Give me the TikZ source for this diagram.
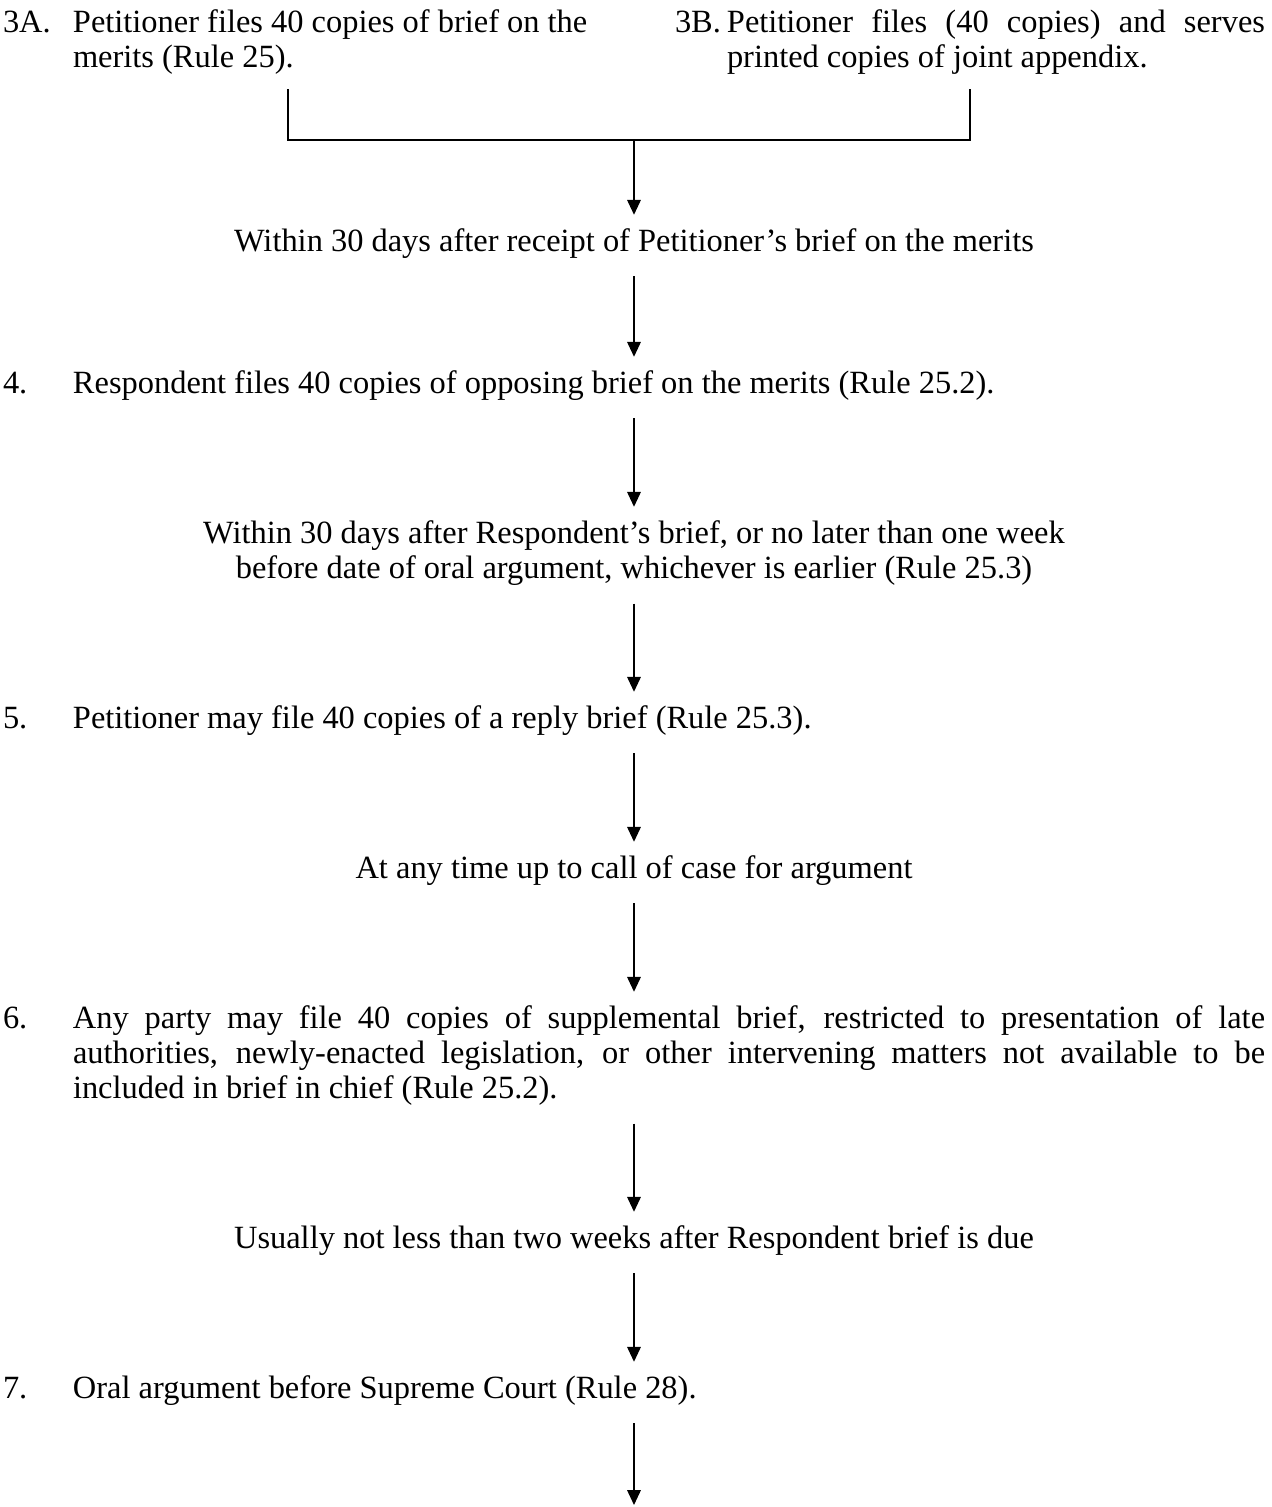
\documentclass[tikz,border=0pt]{standalone}
\usepackage{fontspec}
\setmainfont{Liberation Serif}
\usetikzlibrary{arrows.meta}
\newlength\pxu
\setlength\pxu{0.37pt}
\newcommand\steplabel[2]{\makebox[#1\pxu][l]{#2}}
\newcommand\justline[1]{\makebox[\linewidth][s]{#1}}

\begin{document}
\begin{tikzpicture}[x=0.37pt, y=-0.37pt, >={Triangle[width=5pt,length=5.5pt]},
  every node/.style={inner sep=0pt, outer sep=0pt, font=\fontsize{12}{13}\selectfont},
  stepnode/.style={anchor=base west},
  waitnode/.style={anchor=base},
  flowline/.style={line width=0.6pt},
  flowarrow/.style={flowline, ->, shorten <=5.5pt, shorten >=4.3pt}]
  \useasboundingbox (0,0) rectangle (1271,1507);

  \node[stepnode] (step3a) at (3,32) {\steplabel{70}{3A.}\parbox[t]{500\pxu}{\strut\mbox{Petitioner files 40 copies of brief on the}\\ merits (Rule 25).\strut}};
  \node[stepnode] (step3b) at (675,32) {\steplabel{52}{3B.}\parbox[t]{538\pxu}{\strut\justline{Petitioner files (40 copies) and serves}\\ printed copies of joint appendix.\strut}};
  \coordinate (join) at (634,140);

  \node[waitnode] (wait1) at (634,251) {\strut Within 30 days after receipt of Petitioner’s brief on the merits};
  \node[stepnode] (step4) at (3,393) {\steplabel{70}{4.}\parbox[t]{1192\pxu}{\strut Respondent files 40 copies of opposing brief on the merits (Rule 25.2).}};
  \node[waitnode] (wait2) at (634,543) {\parbox[t]{1000\pxu}{\centering\strut Within 30 days after Respondent’s brief, or no later than one week\\ before date of oral argument, whichever is earlier (Rule 25.3)\strut}};
  \node[stepnode] (step5) at (3,728) {\steplabel{70}{5.}\parbox[t]{1192\pxu}{\strut Petitioner may file 40 copies of a reply brief (Rule 25.3).}};
  \node[waitnode] (wait3) at (634,878) {\strut At any time up to call of case for argument};
  \node[stepnode] (step6) at (3,1028) {\steplabel{70}{6.}\parbox[t]{1192\pxu}{\strut\justline{Any party may file 40 copies of supplemental brief, restricted to presentation of late}\\ \justline{authorities, newly-enacted legislation, or other intervening matters not available to be}\\ included in brief in chief (Rule 25.2).\strut}};
  \node[waitnode] (wait4) at (634,1248) {\strut Usually not less than two weeks after Respondent brief is due};
  \node[stepnode] (step7) at (3,1398) {\steplabel{70}{7.}\parbox[t]{1192\pxu}{\strut Oral argument before Supreme Court (Rule 28).}};
  \coordinate (endpt) at (634,1505);

  \draw[flowline, shorten <=4.3pt] (step3a.south) |- (join);
  \draw[flowline, shorten <=4.3pt] (step3b.south) |- (join);
  \draw[flowarrow, shorten <=0pt] (join) -- (wait1);
  \draw[flowarrow] (wait1) -- (step4);
  \draw[flowarrow] (step4) -- (wait2);
  \draw[flowarrow] (wait2) -- (step5);
  \draw[flowarrow] (step5) -- (wait3);
  \draw[flowarrow] (wait3) -- (step6);
  \draw[flowarrow] (step6) -- (wait4);
  \draw[flowarrow] (wait4) -- (step7);
  \draw[flowarrow, shorten >=0pt] (step7) -- (endpt);
\end{tikzpicture}
\end{document}
